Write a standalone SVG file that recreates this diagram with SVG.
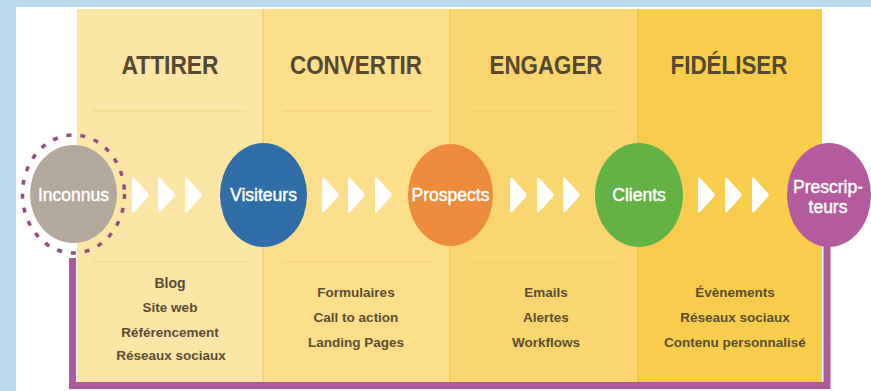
<svg xmlns="http://www.w3.org/2000/svg" width="871" height="391" viewBox="0 0 871 391">
  <style>
    .title { font-family: "Liberation Sans", Arial, sans-serif; font-weight: bold; font-size: 25px; fill: #56492f; text-anchor: middle; }
    .item { font-family: "Liberation Sans", Arial, sans-serif; font-weight: bold; font-size: 13.5px; fill: #5b4d33; text-anchor: middle; }
    .label { font-family: "Liberation Sans", Arial, sans-serif; font-size: 17.5px; fill: #ffffff; stroke: #ffffff; stroke-width: 0.45; text-anchor: middle; }
    .sep { stroke: #e8bf5e; stroke-opacity: 0.35; stroke-width: 1.5; }
    .chev { fill: #ffffff; }
    .frame { fill: none; stroke: #b0589c; stroke-width: 7; stroke-linejoin: miter; }
  </style>
  <defs>
    <path id="chevron" d="M0,2 Q0,0 2,0.8 L16,16.3 Q17.5,18 16,19.7 L2,35.2 Q0,36 0,34 Z"/>
  </defs>

  <!-- background -->
  <rect x="0" y="0" width="871" height="391" fill="#b9dbee"/>
  <rect x="16" y="7" width="855" height="384" fill="#ffffff"/>

  <!-- stage columns -->
  <g id="columns">
    <rect x="77" y="9" width="186" height="374" fill="#fce6a6"/>
    <rect x="263" y="9" width="187" height="374" fill="#fcde8b"/>
    <rect x="450" y="9" width="188" height="374" fill="#fbd56f"/>
    <rect x="638" y="9" width="184" height="374" fill="#f9cd4c"/>
    <line x1="263" y1="9" x2="263" y2="383" stroke="#efc460" stroke-width="1"/>
    <line x1="450" y1="9" x2="450" y2="383" stroke="#efbf52" stroke-width="1"/>
    <line x1="638" y1="9" x2="638" y2="383" stroke="#e8b840" stroke-width="1"/>
    <line class="sep" x1="93" y1="111" x2="247" y2="111"/>
    <line class="sep" x1="283" y1="111" x2="433" y2="111"/>
    <line class="sep" x1="470" y1="111" x2="620" y2="111"/>
    <line class="sep" x1="657" y1="111" x2="805" y2="111"/>
    <line class="sep" x1="93" y1="262" x2="247" y2="262"/>
    <line class="sep" x1="283" y1="262" x2="433" y2="262"/>
    <line class="sep" x1="470" y1="262" x2="620" y2="262"/>
    <line class="sep" x1="657" y1="262" x2="805" y2="262"/>
  </g>

  <!-- stage titles -->
  <g id="titles">
    <text class="title" x="170" y="74" textLength="97" lengthAdjust="spacingAndGlyphs">ATTIRER</text>
    <text class="title" x="356" y="74" textLength="132" lengthAdjust="spacingAndGlyphs">CONVERTIR</text>
    <text class="title" x="546" y="74" textLength="113" lengthAdjust="spacingAndGlyphs">ENGAGER</text>
    <text class="title" x="729" y="74" textLength="117" lengthAdjust="spacingAndGlyphs">FIDÉLISER</text>
  </g>

  <!-- stage items -->
  <g id="items">
    <text class="item" x="170" y="288" style="font-size:14px">Blog</text>
    <text class="item" x="170" y="312">Site web</text>
    <text class="item" x="170" y="337">Référencement</text>
    <text class="item" x="171" y="360">Réseaux sociaux</text>
    <text class="item" x="356" y="297">Formulaires</text>
    <text class="item" x="356" y="322">Call to action</text>
    <text class="item" x="356" y="347">Landing Pages</text>
    <text class="item" x="546" y="297">Emails</text>
    <text class="item" x="546" y="322">Alertes</text>
    <text class="item" x="546" y="347">Workflows</text>
    <text class="item" x="735" y="297">Évènements</text>
    <text class="item" x="735" y="322">Réseaux sociaux</text>
    <text class="item" x="735" y="347">Contenu personnalisé</text>
  </g>

  <!-- connectors -->
  <g id="connectors">
    <polyline class="frame" points="72.5,258 72.5,385.5 827,385.5 827,240"/>
    <use href="#chevron" class="chev" x="132" y="177"/>
    <use href="#chevron" class="chev" x="158" y="177"/>
    <use href="#chevron" class="chev" x="185" y="177"/>
    <use href="#chevron" class="chev" x="322" y="177"/>
    <use href="#chevron" class="chev" x="348" y="177"/>
    <use href="#chevron" class="chev" x="375" y="177"/>
    <use href="#chevron" class="chev" x="510" y="177"/>
    <use href="#chevron" class="chev" x="537" y="177"/>
    <use href="#chevron" class="chev" x="563" y="177"/>
    <use href="#chevron" class="chev" x="698" y="177"/>
    <use href="#chevron" class="chev" x="725" y="177"/>
    <use href="#chevron" class="chev" x="752" y="177"/>
  </g>

  <!-- nodes -->
  <g id="node-inconnus">
    <ellipse cx="73.5" cy="194" rx="51" ry="59" fill="none" stroke="#934d82" stroke-width="3.5" stroke-dasharray="5 9"/>
    <ellipse cx="73.5" cy="194" rx="43.5" ry="49" fill="#b3a89c"/>
    <text class="label" x="73.5" y="200.5">Inconnus</text>
  </g>
  <g id="node-visiteurs">
    <ellipse cx="263.5" cy="195" rx="43.5" ry="52" fill="#2f6ea7"/>
    <text class="label" x="263.5" y="200.5">Visiteurs</text>
  </g>
  <g id="node-prospects">
    <ellipse cx="450.5" cy="195" rx="42.5" ry="51" fill="#ec8b3b"/>
    <text class="label" x="450.5" y="200.5">Prospects</text>
  </g>
  <g id="node-clients">
    <ellipse cx="639" cy="195" rx="44" ry="52" fill="#63b246"/>
    <text class="label" x="639" y="200.5">Clients</text>
  </g>
  <g id="node-prescripteurs">
    <ellipse cx="829" cy="195" rx="42" ry="52" fill="#b45ba0"/>
    <text class="label" x="828" y="193">Prescrip-</text>
    <text class="label" x="828" y="213">teurs</text>
  </g>
</svg>
